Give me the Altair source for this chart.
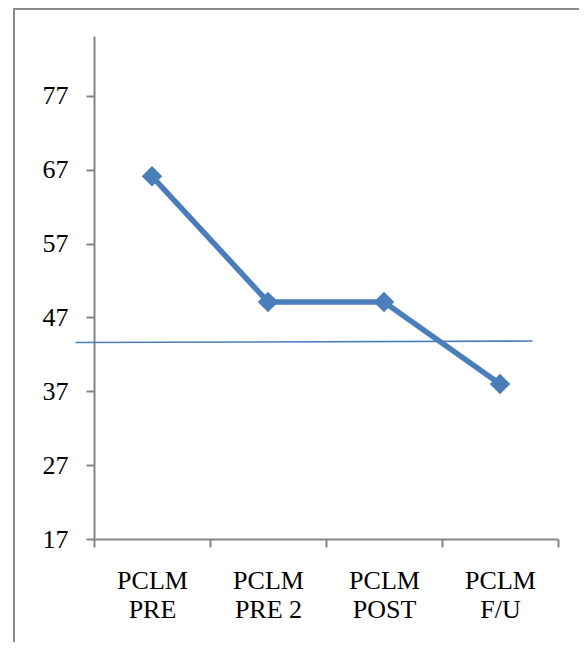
import altair as alt
import pandas as pd

categories = ["PCLM PRE", "PCLM PRE 2", "PCLM POST", "PCLM F/U"]
values = [66.1, 49.1, 49.1, 38.0]

# thin reference line (position along a 0-4 category axis, value)
ref_x = [-0.16, 3.78]
ref_y = [43.6, 43.8]

y_ticks = [17, 27, 37, 47, 57, 67, 77]

df = pd.DataFrame({"cat": categories, "val": values})
ref = pd.DataFrame({"x": ref_x, "y": ref_y})

BLUE = "#4A7EBB"
GRAY = "#868686"
FONT = "Liberation Serif"

yscale = alt.Scale(domain=[17, 85.1], nice=False, zero=False)
yaxis = alt.Axis(values=y_ticks, labelFont=FONT, labelFontSize=26,
                 labelColor="black", labelPadding=18, grid=False,
                 domainColor=GRAY, domainWidth=2, tickColor=GRAY,
                 tickWidth=2, tickSize=8)

frame = alt.Chart(pd.DataFrame({"a": [0]})).mark_rect(
    fill=None, stroke="#8C8C8C", strokeWidth=2
).encode(
    x=alt.value(-80), x2=alt.value(700),
    y=alt.value(-27), y2=alt.value(800)
)

line = alt.Chart(df).mark_line(
    color=BLUE, strokeWidth=5.5,
    point=alt.OverlayMarkDef(shape="diamond", size=420, color=BLUE, filled=True, opacity=1)
).encode(
    x=alt.X("cat:N", sort=categories, title=None,
            scale=alt.Scale(paddingInner=0, paddingOuter=0),
            axis=alt.Axis(
                tickBand="extent", labelAngle=0, labelFont=FONT, labelFontSize=26,
                labelColor="black", labelPadding=20, labelLineHeight=29,
                labelExpr="[slice(datum.label,0,4), slice(datum.label,5)]",
                domainColor=GRAY, domainWidth=2, tickColor=GRAY, tickWidth=2, tickSize=8,
                grid=False, labelBaseline="top")),
    y=alt.Y("val:Q", scale=yscale, title=None, axis=yaxis)
)

refline = alt.Chart(ref).mark_line(color=BLUE, strokeWidth=1.6).encode(
    x=alt.X("x:Q", scale=alt.Scale(domain=[0, 4], nice=False, zero=False), axis=None),
    y=alt.Y("y:Q", scale=yscale, title=None, axis=yaxis),
)

chart = alt.layer(frame, line, refline).resolve_scale(x="independent").properties(
    width=464, height=503,
    background="white",
    autosize=alt.AutoSizeParams(type="none"),
    padding={"left": 86, "top": 28, "right": 21, "bottom": 103},
).configure_view(strokeWidth=0, stroke="transparent")

chart.save("out.html", embed_options={"renderer": "svg", "actions": False})
